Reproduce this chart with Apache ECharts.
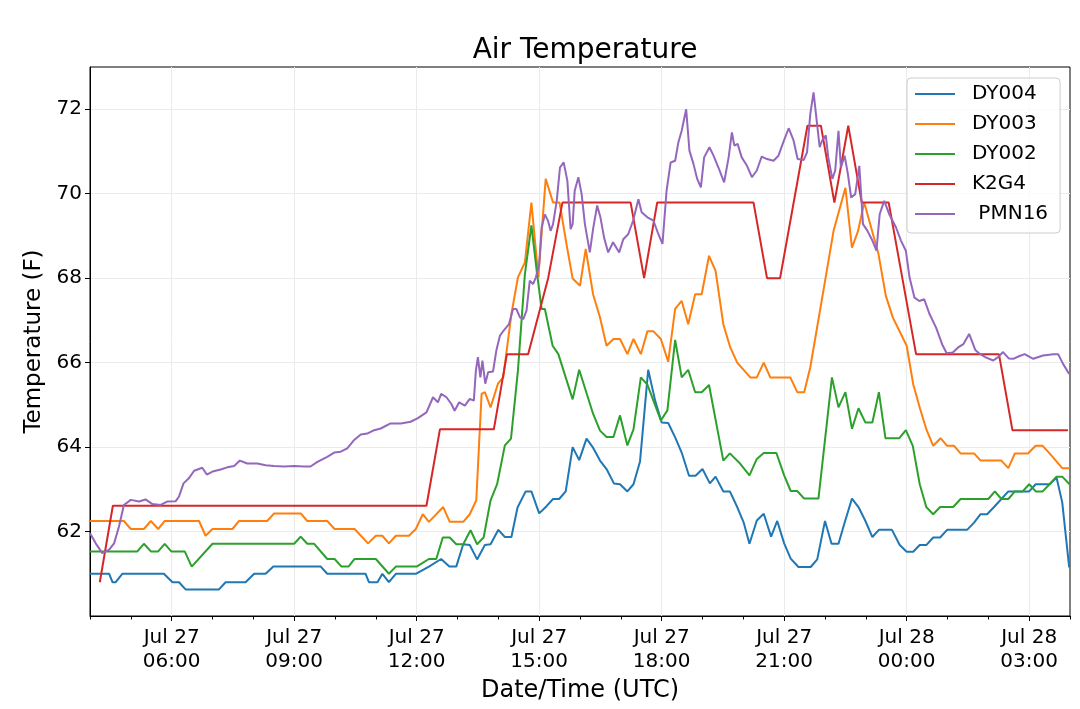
<!DOCTYPE html>
<html>
<head>
<meta charset="utf-8">
<title>Air Temperature</title>
<script src="https://cdn.jsdelivr.net/npm/echarts@6.0.0/dist/echarts.min.js"></script>
<style>
    html, body { margin: 0; padding: 0; background: #fff; }
    #airTempChart { width: 1080px; height: 709px; }
</style>
</head>
<body>
<div id="airTempChart"></div>
<script>
// x = hours since Jul 27 00:00 UTC, y = temperature (F)
const xTickHours = [6, 9, 12, 15, 18, 21, 24, 27]
const xTickLabels = ['Jul 27\n06:00', 'Jul 27\n09:00', 'Jul 27\n12:00', 'Jul 27\n15:00',
    'Jul 27\n18:00', 'Jul 27\n21:00', 'Jul 28\n00:00', 'Jul 28\n03:00']
const yTicks = [62, 64, 66, 68, 70, 72]

const seriesNames = ['DY004', 'DY003', 'DY002', 'K2G4', ' PMN16']

const dy004 = [
    [4.0, 61.0], [4.47, 61.0], [4.55, 60.8], [4.63, 60.8], [4.79, 61.0], [5.81, 61.0], [6.02, 60.8], [6.18, 60.8],
    [6.34, 60.63], [7.16, 60.63], [7.32, 60.8], [7.81, 60.8], [8.02, 61.0], [8.3, 61.0], [8.49, 61.17], [9.65, 61.17],
    [9.81, 61.0], [10.75, 61.0], [10.83, 60.8], [11.04, 60.8], [11.16, 61.0], [11.32, 60.8], [11.49, 61.0], [11.98, 61.0],
    [12.3, 61.17], [12.6, 61.35], [12.8, 61.17], [12.97, 61.17], [13.14, 61.7], [13.3, 61.68], [13.48, 61.34], [13.67, 61.68],
    [13.81, 61.7], [14.0, 62.04], [14.16, 61.87], [14.32, 61.87], [14.47, 62.57], [14.67, 62.95], [14.81, 62.95], [15.0, 62.43],
    [15.18, 62.6], [15.34, 62.77], [15.49, 62.77], [15.65, 62.95], [15.82, 64.0], [15.98, 63.69], [16.16, 64.2], [16.31, 64.0],
    [16.49, 63.68], [16.65, 63.48], [16.83, 63.14], [16.98, 63.12], [17.16, 62.95], [17.31, 63.12], [17.47, 63.66], [17.67, 65.83],
    [17.84, 65.1], [18.0, 64.58], [18.16, 64.57], [18.33, 64.23], [18.49, 63.87], [18.67, 63.32], [18.83, 63.32], [19.0, 63.48],
    [19.18, 63.14], [19.32, 63.3], [19.51, 62.95], [19.67, 62.95], [19.85, 62.58], [20.01, 62.21], [20.15, 61.71], [20.33, 62.26],
    [20.5, 62.42], [20.68, 61.88], [20.83, 62.25], [21.0, 61.72], [21.16, 61.36], [21.35, 61.16], [21.65, 61.16], [21.81, 61.34],
    [22.0, 62.25], [22.16, 61.71], [22.33, 61.71], [22.48, 62.21], [22.66, 62.78], [22.82, 62.58], [22.99, 62.25], [23.16, 61.87],
    [23.32, 62.04], [23.64, 62.04], [23.83, 61.68], [24.0, 61.52], [24.16, 61.52], [24.32, 61.68], [24.48, 61.68], [24.65, 61.86],
    [24.82, 61.86], [24.99, 62.04], [25.48, 62.04], [25.65, 62.21], [25.81, 62.41], [25.97, 62.41], [26.14, 62.58], [26.32, 62.77],
    [26.49, 62.95], [27.0, 62.95], [27.16, 63.12], [27.5, 63.12], [27.67, 63.28], [27.81, 62.69], [27.98, 61.15]
]

const dy003 = [
    [4.0, 62.25], [4.83, 62.25], [5.0, 62.06], [5.32, 62.06], [5.49, 62.25], [5.67, 62.06], [5.83, 62.25], [6.67, 62.25],
    [6.83, 61.9], [7.0, 62.06], [7.49, 62.06], [7.65, 62.25], [8.34, 62.25], [8.51, 62.43], [9.16, 62.43], [9.32, 62.25],
    [9.81, 62.25], [9.99, 62.06], [10.48, 62.06], [10.81, 61.72], [11.0, 61.9], [11.16, 61.9], [11.32, 61.72], [11.49, 61.9],
    [11.81, 61.9], [11.98, 62.06], [12.15, 62.41], [12.3, 62.23], [12.65, 62.58], [12.81, 62.23], [13.14, 62.23], [13.3, 62.41],
    [13.46, 62.74], [13.59, 65.26], [13.67, 65.3], [13.81, 64.94], [13.99, 65.5], [14.12, 65.65], [14.32, 67.15], [14.48, 68.02],
    [14.65, 68.37], [14.81, 69.79], [14.98, 68.02], [15.16, 70.35], [15.34, 69.79], [15.5, 69.79], [15.67, 68.8], [15.82, 67.99],
    [16.0, 67.82], [16.14, 68.69], [16.32, 67.62], [16.49, 67.07], [16.65, 66.4], [16.82, 66.56], [16.98, 66.56], [17.16, 66.2],
    [17.31, 66.56], [17.49, 66.2], [17.65, 66.74], [17.8, 66.74], [17.98, 66.56], [18.16, 66.02], [18.33, 67.27], [18.49, 67.46],
    [18.65, 66.91], [18.82, 67.62], [18.98, 67.62], [19.16, 68.53], [19.32, 68.17], [19.51, 66.91], [19.68, 66.36], [19.85, 66.0],
    [20.17, 65.65], [20.33, 65.65], [20.5, 66.0], [20.66, 65.65], [21.15, 65.65], [21.32, 65.3], [21.49, 65.3], [21.64, 65.89],
    [21.96, 67.7], [22.21, 69.12], [22.5, 70.14], [22.66, 68.72], [22.81, 69.12], [22.96, 69.79], [23.31, 68.57], [23.49, 67.58],
    [23.66, 67.07], [24.0, 66.4], [24.16, 65.49], [24.33, 64.9], [24.49, 64.4], [24.65, 64.03], [24.83, 64.21], [24.99, 64.03],
    [25.16, 64.03], [25.32, 63.85], [25.65, 63.85], [25.81, 63.68], [26.32, 63.68], [26.49, 63.5], [26.65, 63.85], [26.97, 63.85],
    [27.16, 64.03], [27.33, 64.03], [27.5, 63.85], [27.81, 63.5], [27.99, 63.5]
]

const dy002 = [
    [4.0, 61.53], [5.16, 61.53], [5.32, 61.71], [5.49, 61.53], [5.67, 61.53], [5.83, 61.71], [5.99, 61.53], [6.32, 61.53],
    [6.49, 61.17], [7.0, 61.71], [9.0, 61.71], [9.16, 61.88], [9.32, 61.71], [9.49, 61.71], [9.81, 61.35], [9.99, 61.35],
    [10.16, 61.17], [10.33, 61.17], [10.48, 61.35], [11.0, 61.35], [11.32, 61.0], [11.49, 61.17], [12.0, 61.17], [12.3, 61.35],
    [12.48, 61.35], [12.64, 61.86], [12.81, 61.86], [12.97, 61.7], [13.14, 61.7], [13.32, 62.03], [13.48, 61.7], [13.64, 61.86],
    [13.81, 62.74], [13.97, 63.12], [14.16, 64.04], [14.31, 64.2], [14.48, 65.81], [14.65, 68.09], [14.81, 69.25], [14.95, 68.09],
    [15.06, 67.27], [15.14, 67.27], [15.33, 66.4], [15.47, 66.2], [15.82, 65.13], [15.98, 65.83], [16.32, 64.79], [16.49, 64.39],
    [16.65, 64.24], [16.82, 64.24], [16.98, 64.75], [17.16, 64.04], [17.31, 64.42], [17.49, 65.65], [17.65, 65.48], [17.98, 64.63],
    [18.14, 64.87], [18.33, 66.54], [18.49, 65.65], [18.65, 65.83], [18.82, 65.3], [18.98, 65.3], [19.16, 65.47], [19.51, 63.68],
    [19.67, 63.85], [19.92, 63.61], [20.15, 63.33], [20.33, 63.72], [20.5, 63.86], [20.81, 63.86], [21.0, 63.33], [21.16, 62.96],
    [21.32, 62.96], [21.49, 62.78], [21.84, 62.78], [22.17, 65.65], [22.33, 64.94], [22.5, 65.3], [22.66, 64.43], [22.82, 64.92],
    [22.99, 64.58], [23.16, 64.58], [23.32, 65.3], [23.48, 64.21], [23.82, 64.21], [23.98, 64.4], [24.15, 64.03], [24.32, 63.12],
    [24.48, 62.58], [24.65, 62.41], [24.82, 62.58], [25.14, 62.58], [25.32, 62.77], [26.0, 62.77], [26.16, 62.95], [26.32, 62.77],
    [26.49, 62.77], [26.65, 62.95], [26.84, 62.95], [27.0, 63.12], [27.16, 62.95], [27.33, 62.95], [27.5, 63.12], [27.67, 63.3],
    [27.81, 63.3], [27.99, 63.12]
]

const k2g4 = [
    [4.24, 60.8], [4.56, 62.61], [12.24, 62.61], [12.57, 64.42], [13.89, 64.42], [14.21, 66.2], [14.73, 66.2], [15.22, 68.0],
    [15.57, 69.79], [17.24, 69.79], [17.57, 68.0], [17.89, 69.79], [20.25, 69.79], [20.58, 68.0], [20.9, 68.0], [21.57, 71.61],
    [21.9, 71.61], [22.23, 69.79], [22.57, 71.61], [22.9, 69.79], [23.56, 69.79], [24.23, 66.2], [26.26, 66.2], [26.59, 64.4],
    [27.95, 64.4]
]

const pmn16 = [
    [4.0, 61.96], [4.14, 61.72], [4.3, 61.49], [4.47, 61.57], [4.59, 61.72], [4.71, 62.12], [4.83, 62.63], [5.0, 62.75],
    [5.2, 62.71], [5.36, 62.76], [5.53, 62.65], [5.73, 62.63], [5.89, 62.71], [6.1, 62.72], [6.18, 62.83], [6.29, 63.14],
    [6.42, 63.26], [6.55, 63.44], [6.75, 63.51], [6.86, 63.35], [7.0, 63.42], [7.2, 63.47], [7.36, 63.52], [7.53, 63.55],
    [7.67, 63.68], [7.85, 63.61], [8.1, 63.61], [8.3, 63.57], [8.51, 63.55], [8.75, 63.54], [9.0, 63.55], [9.24, 63.54],
    [9.4, 63.54], [9.57, 63.65], [9.81, 63.77], [9.98, 63.87], [10.14, 63.89], [10.3, 63.97], [10.47, 64.17], [10.63, 64.3],
    [10.79, 64.32], [10.96, 64.4], [11.12, 64.44], [11.36, 64.56], [11.61, 64.56], [11.85, 64.6], [12.02, 64.68], [12.24, 64.82],
    [12.4, 65.18], [12.52, 65.06], [12.6, 65.26], [12.73, 65.18], [12.85, 65.02], [12.93, 64.86], [13.04, 65.06], [13.18, 64.98],
    [13.3, 65.14], [13.4, 65.1], [13.45, 65.81], [13.5, 66.13], [13.56, 65.65], [13.61, 66.05], [13.68, 65.5], [13.75, 65.77],
    [13.87, 65.79], [13.95, 66.28], [14.04, 66.64], [14.13, 66.76], [14.26, 66.91], [14.36, 67.27], [14.44, 67.27], [14.53, 67.07],
    [14.61, 67.03], [14.69, 67.23], [14.77, 67.94], [14.85, 67.86], [14.92, 68.02], [15.0, 68.33], [15.06, 69.2], [15.14, 69.51],
    [15.22, 69.35], [15.28, 69.12], [15.34, 69.28], [15.43, 69.83], [15.51, 70.62], [15.6, 70.74], [15.69, 70.31], [15.77, 69.16],
    [15.82, 69.28], [15.87, 70.07], [15.96, 70.39], [16.04, 69.99], [16.12, 69.28], [16.24, 68.61], [16.32, 69.16], [16.42, 69.72],
    [16.5, 69.44], [16.59, 68.96], [16.69, 68.61], [16.81, 68.85], [16.96, 68.61], [17.06, 68.92], [17.18, 69.04], [17.3, 69.36],
    [17.43, 69.87], [17.51, 69.56], [17.65, 69.44], [17.8, 69.36], [17.92, 69.04], [18.02, 68.81], [18.12, 70.07], [18.22, 70.74],
    [18.33, 70.78], [18.41, 71.22], [18.49, 71.49], [18.6, 72.0], [18.68, 71.02], [18.78, 70.7], [18.87, 70.35], [18.96, 70.15],
    [19.04, 70.86], [19.17, 71.1], [19.27, 70.9], [19.39, 70.62], [19.53, 70.27], [19.64, 70.86], [19.72, 71.45], [19.78, 71.14],
    [19.86, 71.18], [19.96, 70.86], [20.09, 70.66], [20.21, 70.39], [20.33, 70.55], [20.45, 70.88], [20.58, 70.82], [20.74, 70.78],
    [20.86, 70.9], [20.98, 71.22], [21.11, 71.55], [21.23, 71.26], [21.33, 70.82], [21.48, 70.8], [21.56, 70.98], [21.64, 71.89],
    [21.72, 72.4], [21.8, 71.7], [21.87, 71.1], [21.93, 71.26], [22.02, 71.38], [22.08, 70.86], [22.18, 70.35], [22.25, 70.55],
    [22.33, 71.49], [22.39, 70.62], [22.48, 70.9], [22.56, 70.47], [22.64, 69.91], [22.74, 69.99], [22.84, 70.66], [22.89, 69.91],
    [22.93, 69.28], [23.04, 69.12], [23.16, 68.89], [23.26, 68.65], [23.34, 69.52], [23.45, 69.83], [23.57, 69.52], [23.74, 69.2],
    [23.86, 68.89], [23.98, 68.65], [24.07, 68.02], [24.19, 67.54], [24.31, 67.46], [24.43, 67.5], [24.56, 67.15], [24.72, 66.83],
    [24.87, 66.43], [24.98, 66.22], [25.13, 66.24], [25.26, 66.36], [25.39, 66.44], [25.53, 66.68], [25.68, 66.3], [25.8, 66.2],
    [25.95, 66.12], [26.12, 66.05], [26.24, 66.13], [26.36, 66.25], [26.5, 66.1], [26.61, 66.09], [26.75, 66.15], [26.89, 66.2],
    [27.1, 66.09], [27.34, 66.17], [27.59, 66.2], [27.71, 66.2], [27.83, 65.97], [27.98, 65.73]
]

const seriesData = [dy004, dy003, dy002, k2g4, pmn16]
const seriesColors = ['#1f77b4', '#ff7f0e', '#2ca02c', '#d62728', '#9467bd']

const FONT = 'DejaVu Sans'

const renderChart = () => {
    const chart = echarts.init(document.getElementById('airTempChart'), null, {renderer: 'canvas'})

    const option = {
        animation: false,
        backgroundColor: '#fff',
        title: {
            text: 'Air Temperature',
            left: 580,
            top: 32,
            textAlign: 'center',
            textStyle: {fontFamily: FONT, fontSize: 28, fontWeight: 'normal', color: '#000'},
        },
        legend: {
            orient: 'vertical',
            left: 907,
            top: 78,
            padding: [6, 12, 9, 8],
            icon: 'rect',
            itemWidth: 40,
            itemHeight: 2,
            itemGap: 10,
            backgroundColor: 'rgba(255,255,255,0.8)',
            borderColor: '#cccccc',
            borderWidth: 1,
            borderRadius: 4,
            data: seriesNames,
            textStyle: {fontFamily: FONT, fontSize: 20, color: '#000', padding: [0, 0, 0, 12]},
        },
        grid: {
            left: 90,
            right: 10,
            top: 67,
            bottom: 93,
            show: true,
            borderColor: '#000',
            borderWidth: 1,
            backgroundColor: 'transparent',
        },
        xAxis: [
            {
                type: 'value',
                min: 4,
                max: 28,
                name: 'Date/Time (UTC)',
                nameLocation: 'middle',
                nameGap: 53,
                nameTextStyle: {fontFamily: FONT, fontSize: 24, color: '#000'},
                axisLine: {show: true, lineStyle: {color: '#000', width: 1}},
                axisTick: {show: true, customValues: xTickHours, length: 5, lineStyle: {color: '#000'}},
                axisLabel: {
                    customValues: xTickHours,
                    formatter: (v) => xTickLabels[xTickHours.indexOf(v)] || '',
                    fontFamily: FONT,
                    fontSize: 20,
                    lineHeight: 24,
                    color: '#000',
                    margin: 10,
                },
                splitLine: {show: true, lineStyle: {color: '#ebebeb', width: 1}},
            },
            {
                // hourly minor ticks
                type: 'value',
                position: 'bottom',
                min: 4,
                max: 28,
                interval: 1,
                axisLine: {show: false},
                axisTick: {show: true, length: 3.5, lineStyle: {color: '#000'}},
                axisLabel: {show: false},
                splitLine: {show: false},
            },
        ],
        yAxis: {
            type: 'value',
            min: 60,
            max: 73,
            name: 'Temperature (F)',
            nameLocation: 'middle',
            nameGap: 40,
            nameTextStyle: {fontFamily: FONT, fontSize: 23, color: '#000'},
            axisLine: {show: true, lineStyle: {color: '#000', width: 1}},
            axisTick: {show: true, customValues: yTicks, length: 5, lineStyle: {color: '#000'}},
            axisLabel: {customValues: yTicks, fontFamily: FONT, fontSize: 20, color: '#000', margin: 8},
            splitLine: {show: true, lineStyle: {color: '#ebebeb', width: 1}},
        },
        series: seriesNames.map((name, i) => ({
            name: name,
            type: 'line',
            xAxisIndex: 0,
            data: seriesData[i],
            symbol: 'none',
            showSymbol: false,
            color: seriesColors[i],
            lineStyle: {color: seriesColors[i], width: 2},
            clip: true,
        })),
    }
    chart.setOption(option)
}

renderChart()
</script>
</body>
</html>
